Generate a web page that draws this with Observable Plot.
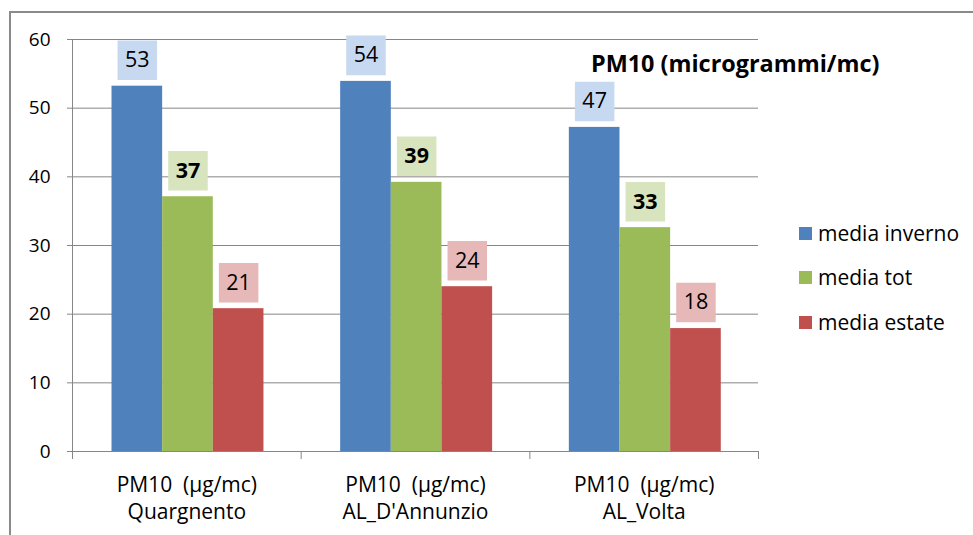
<!DOCTYPE html>
<html>
<head>
<meta charset="utf-8">
<script src="https://cdn.jsdelivr.net/npm/d3@7"></script>
<script src="https://cdn.jsdelivr.net/npm/@observablehq/plot@0.6"></script>
<style>
  html, body { margin: 0; padding: 0; background: #fff; }
  #wrap { position: relative; width: 973px; height: 535px; overflow: hidden; background: #fff; font-family: "Open Sans", sans-serif; }
  #frame { position: absolute; left: 9px; top: 11px; width: 980px; height: 540px; border-left: 2px solid #8a8a8a; border-top: 2px solid #8a8a8a; }
  #chart { position: absolute; left: 0; top: 0; }
  #chart svg text { fill: #000; }
  #title { position: absolute; left: 591px; top: 52px; font-size: 23.4px; line-height: 1; font-weight: bold; color: #000; white-space: nowrap; }
  #legend { position: absolute; left: 799px; top: 211px; }
  .item { display: flex; align-items: center; height: 44.5px; font-size: 21px; line-height: 1; color: #000; white-space: nowrap; }
  .sw { width: 13px; height: 13px; margin-right: 6px; }
</style>
</head>
<body>
<div id="wrap">
  <div id="frame"></div>
  <div id="chart"></div>
  <div id="title">PM10 (microgrammi/mc)</div>
  <div id="legend"></div>
</div>
<script>
// ---- data ----
const sites = ["Quargnento", "AL_D'Annunzio", "AL_Volta"];
const siteLabelPrefix = "PM10\u00a0 (µg/mc)";
const series = ["media inverno", "media tot", "media estate"];
const mediaInverno = [53.2, 53.9, 47.2];
const mediaTot = [37.1, 39.2, 32.6];
const mediaEstate = [20.8, 24.0, 17.9];
const yTicks = [0, 10, 20, 30, 40, 50, 60];
const barColors = ["#4f81bd", "#9bbb59", "#c0504d"];
const boxColors = ["#c6d9f1", "#d7e4bd", "#e6b9b8"];

// ---- build table ----
const values = [mediaInverno, mediaTot, mediaEstate];
const barW = 0.2215; // bar width as a fraction of a group
const shift = 0.005;
const rows = [];
sites.forEach((site, i) => {
  series.forEach((s, j) => {
    const x1 = i + 0.5 + shift + (j - 1.5) * barW;
    rows.push({site, series: s, j, x1, x2: x1 + barW, xc: x1 + barW / 2, value: values[j][i]});
  });
});
const siteRows = sites.map((site, i) => ({site, xc: i + 0.5}));
const fmt = d3.format(".0f");

const marks = [
  Plot.ruleY(yTicks.filter(t => t > 0), {stroke: "#868686", strokeWidth: 1})
];
series.forEach((s, j) => {
  const data = rows.filter(r => r.j === j);
  marks.push(Plot.rectY(data, {x1: "x1", x2: "x2", y1: 0, y2: "value", fill: barColors[j]}));
});
series.forEach((s, j) => {
  const data = rows.filter(r => r.j === j);
  marks.push(Plot.dot(data, {x: "xc", y: "value", symbol: "square", r: 22.3, fill: boxColors[j], stroke: "none", dy: -26}));
  marks.push(Plot.text(data, {x: "xc", y: "value", text: d => fmt(d.value), dy: -26, fontSize: 21.5, fontFamily: "Open Sans", fontWeight: j === 1 ? "bold" : "normal", fill: "#000"}));
});
marks.push(Plot.text(siteRows, {
  x: "xc", text: d => siteLabelPrefix + "\n" + d.site,
  frameAnchor: "bottom", lineAnchor: "top", dy: 21, lineHeight: 1.3,
  fontSize: 21, fontFamily: "Open Sans", fill: "#000"
}));

const chart = Plot.plot({
  width: 973,
  height: 535,
  marginLeft: 72,
  marginRight: 215,
  marginTop: 39,
  marginBottom: 84,
  x: {domain: [0, 3], ticks: [0, 1, 2, 3], tickFormat: () => "", tickSize: 8, line: true, label: null},
  y: {domain: [0, 60], ticks: yTicks, tickSize: 5, tickPadding: 17, line: true, label: null},
  style: {fontFamily: "Open Sans", fontSize: "19px", color: "#868686", background: "transparent", overflow: "visible"},
  marks
});
document.getElementById("chart").appendChild(chart);

// legend
const legend = document.getElementById("legend");
series.forEach((s, j) => {
  const item = document.createElement("div");
  item.className = "item";
  const sw = document.createElement("span");
  sw.className = "sw";
  sw.style.background = barColors[j];
  const label = document.createElement("span");
  label.textContent = s;
  item.appendChild(sw);
  item.appendChild(label);
  legend.appendChild(item);
});
</script>
</body>
</html>
